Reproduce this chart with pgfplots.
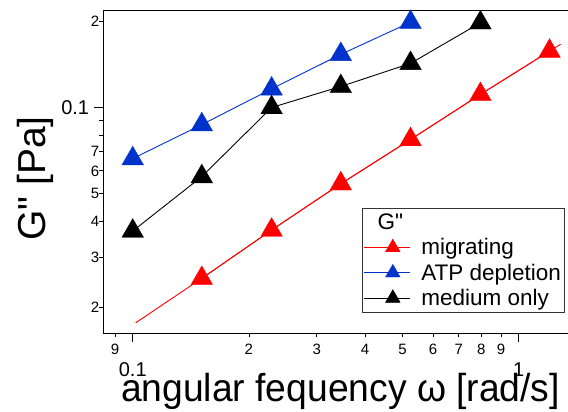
\documentclass[border=0pt]{standalone}
\usepackage{pgfplots}
\pgfplotsset{compat=1.18}
\usepackage{fontspec}
\setmainfont{Liberation Sans}
\newfontfamily\nolig{Liberation Sans}
\definecolor{myblue}{RGB}{0,51,204}
\definecolor{myred}{RGB}{255,0,0}
\begin{document}
\begin{tikzpicture}
\begin{loglogaxis}[
  scale only axis, width=466.7pt, height=323.3pt,
  xmin=0.0839, xmax=1.358, ymin=0.01627, ymax=0.2185,
  axis line style={line width=0.9pt},
  tick align=outside, xtick pos=bottom, ytick pos=left,
  tick style={black, line width=0.8pt},
  xtick={0.09,0.2,0.3,0.4,0.5,0.6,0.7,0.8,0.9},
  xticklabels={9,2,3,4,5,6,7,8,9},
  minor xtick={},
  ytick={0.02,0.03,0.04,0.05,0.06,0.07,0.2},
  yticklabels={2,3,4,5,6,7,2},
  minor ytick={0.08,0.09},
  major tick length=4pt, minor tick length=4pt,
  xticklabel style={font=\fontsize{15}{15}\selectfont, anchor=base, inner sep=0pt, yshift=-17pt},
  yticklabel style={font=\fontsize{15}{15}\selectfont, anchor=east, inner sep=0pt, xshift=0pt},
  extra x ticks={0.1,1}, extra x tick labels={0.1,1},
  extra x tick style={major tick length=9pt, xticklabel style={font=\fontsize{20}{20}\selectfont, yshift=-17.5pt}},
  extra y ticks={0.1}, extra y tick labels={0.1},
  extra y tick style={major tick length=9pt, yticklabel style={font=\fontsize{20}{20}\selectfont, xshift=-5pt}},
  xlabel={angular fequency ω [rad/s]},
  xlabel style={at={(rel axis cs:0.5083,-0.2116)}, anchor=base, inner sep=0pt, xscale=0.955, font=\fontsize{39}{39}\selectfont},
  ylabel={G{\nolig"} [Pa]},
  ylabel style={at={(rel axis cs:-0.1464,0.479)}, anchor=center, inner sep=0pt, font=\fontsize{39}{39}\selectfont},
  legend style={at={(rel axis cs:0.5543,0.3876)}, anchor=north west, draw=black!80, line width=0.8pt,
    font=\fontsize{22.5}{22.5}\selectfont, inner xsep=1pt, inner ysep=3.5pt, row sep=3.5pt,
    /tikz/every odd column/.append style={column sep=9pt}},
  legend cell align=left,
  legend image code/.code={\draw[#1] (0pt,0pt) -- (46pt,0pt); \draw[#1, mark size=8.5pt] plot coordinates {(29pt,0pt)};},
]
\addlegendimage{empty legend}
\addlegendentry{\hspace*{-59pt}G{\nolig"}}
\addplot[myred, line width=0.9pt, forget plot] coordinates {(0.1018,0.0177) (0.151,0.0253) (0.229,0.0373) (0.346,0.0541) (0.5245,0.0772) (0.796,0.1109) (1.202,0.157) (1.284,0.166)};
\addplot[myred, line width=0.9pt, mark=triangle*, mark size=12.5pt, mark options={line width=0.3pt}] coordinates {(0.151,0.0253) (0.229,0.0373) (0.346,0.0541) (0.5245,0.0772) (0.796,0.1109) (1.202,0.157)};
\addlegendentry{migrating}
\addplot[myblue, line width=0.9pt, mark=triangle*, mark size=12.5pt, mark options={line width=0.3pt}] coordinates {(0.1,0.0662) (0.151,0.0870) (0.229,0.1159) (0.346,0.153) (0.5245,0.198)};
\addlegendentry{ATP depletion}
\addplot[black, line width=0.9pt, mark=triangle*, mark size=12.5pt, mark options={line width=0.3pt}] coordinates {(0.1,0.0370) (0.151,0.0573) (0.229,0.0998) (0.346,0.1182) (0.5245,0.1423) (0.796,0.1972)};
\addlegendentry{medium only}
\end{loglogaxis}
\pgfresetboundingbox
\path (-103.3pt,-78.7pt) rectangle (464.7pt,333.3pt);
\end{tikzpicture}
\end{document}
